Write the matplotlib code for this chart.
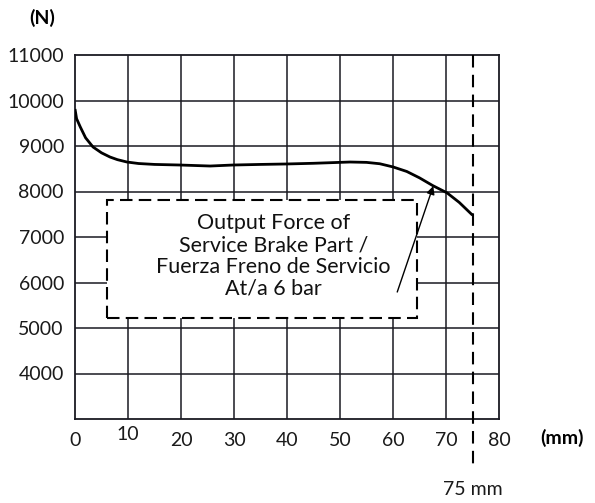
import matplotlib
matplotlib.use("Agg")
import matplotlib.pyplot as plt
from matplotlib.patches import Rectangle

# Data
stroke_mm = [0, 0.3, 1, 2, 3.4, 5, 6.6, 8, 9.8, 12, 15, 19.8, 25.5, 29.8, 35, 40, 45, 51.9, 55, 57.5, 60, 62.6, 65, 67.5, 70.2, 72.5, 75]
force_n = [9813, 9600, 9418, 9180, 8978, 8850, 8758, 8700, 8648, 8615, 8595, 8582, 8560, 8582, 8595, 8605, 8620, 8648, 8640, 8610, 8540, 8440, 8300, 8130, 7970, 7760, 7480]
x_ticks = [0, 10, 20, 30, 40, 50, 60, 70, 80]
y_ticks = [4000, 5000, 6000, 7000, 8000, 9000, 10000, 11000]
y_grid = [3000, 4000, 5000, 6000, 7000, 8000, 9000, 10000, 11000]
box_text = "Output Force of\nService Brake Part /\nFuerza Freno de Servicio\nAt/a 6 bar"
stroke_limit = 75

plt.rcParams['font.family'] = ['Lato', 'DejaVu Sans']

fig = plt.figure(figsize=(5.95, 5.03), dpi=100)
W, H = 595, 503
left, right, top, bottom = 75, 499, 55, 419
ax = fig.add_axes([left / W, 1 - bottom / H, (right - left) / W, (bottom - top) / H])
ax.set_xlim(0, 80)
ax.set_ylim(3000, 11000)

grid_c = '#1a1a22'
for x in x_ticks[1:-1]:
    ax.axvline(x, color=grid_c, lw=1.1, zorder=1)
for y in y_grid[1:-1]:
    ax.axhline(y, color=grid_c, lw=1.1, zorder=1)
for s in ax.spines.values():
    s.set_color(grid_c)
    s.set_linewidth(1.3)

ax.set_xticks(x_ticks)
ax.set_yticks(y_ticks)
ax.tick_params(length=0, labelsize=14, colors='#1a1a1a')
ax.tick_params(axis='x', pad=9)
ax.tick_params(axis='y', pad=8)
for lbl in ax.get_xticklabels():
    if lbl.get_text() == '10':
        lbl.set_y(0.016)

# Box
rect = Rectangle((6.0, 5220), 58.5, 2590, facecolor='white', edgecolor='black',
                 lw=1.5, linestyle=(0, (6, 3)), zorder=3)
ax.add_patch(rect)
ax.text(37.4, 6580, box_text, ha='center', va='center', fontsize=15.5,
        linespacing=1.12, color='#111111', zorder=4)

# Curve
ax.plot(stroke_mm, force_n, color='black', lw=2.0, zorder=5, solid_capstyle='butt')

# Arrow
ax.annotate('', xy=(67.6, 8120), xytext=(60.8, 5791),
            arrowprops=dict(arrowstyle='-|>', color='black', lw=1.0, mutation_scale=12,
                            shrinkA=0, shrinkB=0), zorder=6)

# 75 mm dashed line
ax.plot([stroke_limit, stroke_limit], [11000, 2000], color='black', lw=1.5,
        linestyle=(0, (6, 3.5)), clip_on=False, zorder=6)
ax.text(stroke_limit, 1450, '75 mm', ha='center', va='center', fontsize=14, color='#1a1a1a')

fig.text(42 / W, 1 - 18 / H, '(N)', ha='center', va='center', fontsize=14, fontweight='bold')
fig.text(562 / W, 1 - 438 / H, '(mm)', ha='center', va='center', fontsize=14, fontweight='bold')

fig.savefig('out.png', dpi=100)
